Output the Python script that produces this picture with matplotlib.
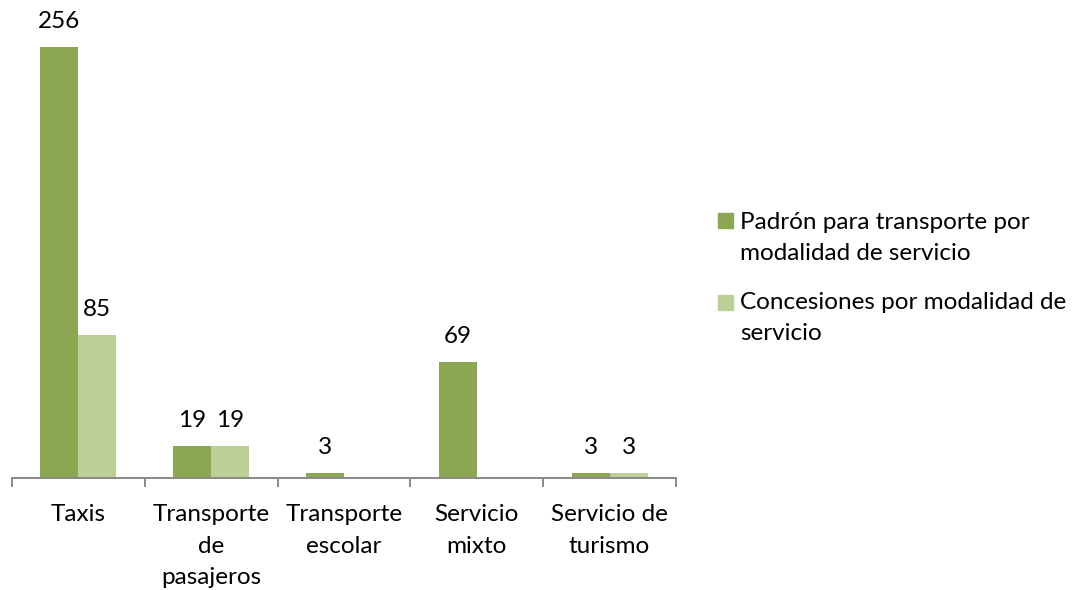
import matplotlib.pyplot as plt
from matplotlib.patches import Rectangle

plt.rcParams['font.family'] = ['Lato', 'DejaVu Sans']

categorias = ['Taxis', 'Transporte\nde\npasajeros', 'Transporte\nescolar',
              'Servicio\nmixto', 'Servicio de\nturismo']
padron = [256, 19, 3, 69, 3]
concesiones = [85, 19, 0, 0, 3]
series = ['Padrón para transporte por\nmodalidad de servicio',
          'Concesiones por modalidad de\nservicio']
colores = ['#8CA752', '#BBCF97']

W, H = 1076, 590
fig = plt.figure(figsize=(W / 100, H / 100), dpi=100)

# plot area in pixels: x 12..676, baseline at 478
px_per_unit = 1.684
top_px = 10
ax = fig.add_axes([12 / W, 1 - 478 / H, 664 / W, (478 - top_px) / H])

x = list(range(len(categorias)))
bw = 0.286
ax.bar([i - bw / 2 for i in x], padron, bw, color=colores[0])
ax.bar([i + bw / 2 for i in x], concesiones, bw, color=colores[1])

for vals, off in ((padron, -bw / 2), (concesiones, bw / 2)):
    for i, v in zip(x, vals):
        if v == 0:
            continue
        ax.annotate(str(v), (i + off, v), xytext=(0, 13.5), textcoords='offset points',
                    ha='center', va='baseline', fontsize=17.5)

ax.set_xlim(-0.5, len(categorias) - 0.5)
ax.set_ylim(0, (478 - top_px) / px_per_unit)

for s in ['top', 'right', 'left']:
    ax.spines[s].set_visible(False)
ax.spines['bottom'].set_color('#898989')
ax.spines['bottom'].set_linewidth(1.4)
ax.set_yticks([])

# boundary ticks (major) and centred labels (minor)
ax.set_xticks([i - 0.5 for i in range(len(categorias) + 1)])
ax.set_xticklabels([])
ax.tick_params(axis='x', length=6.5, width=1.4, color='#898989')
ax.set_xticks(x, minor=True)
ax.set_xticklabels(categorias, minor=True, fontsize=17.5, linespacing=1.62)
ax.tick_params(axis='x', which='minor', length=0, pad=19)

# legend
legend_y = [238, 318]
first_line = [221, 302]
for lab, col, yc, y1 in zip(series, colores, legend_y, first_line):
    fig.add_artist(Rectangle((718 / W, 1 - (y1 + 7.5) / H), 15 / W, 15 / H,
                             transform=fig.transFigure, color=col))
    fig.text(740 / W, 1 - yc / H, lab, fontsize=17.5, va='center', ha='left',
             linespacing=1.62)

fig.savefig('out.png', dpi=100)
